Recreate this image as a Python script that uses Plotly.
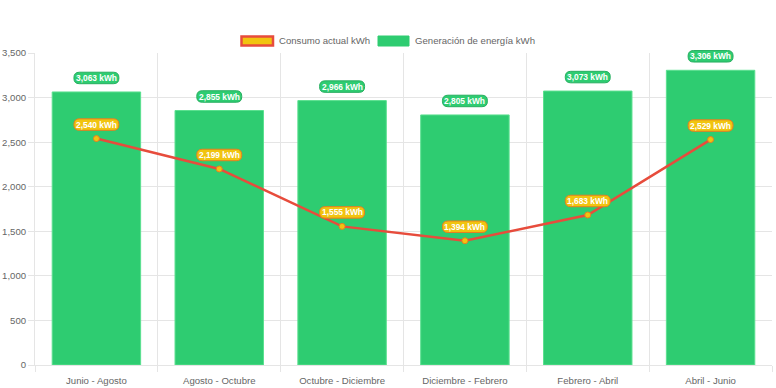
import plotly.graph_objects as go

categories = ["Junio - Agosto", "Agosto - Octubre", "Octubre - Diciembre",
              "Diciembre - Febrero", "Febrero - Abril", "Abril - Junio"]
generacion = [3063, 2855, 2966, 2805, 3073, 3306]
consumo = [2540, 2199, 1555, 1394, 1683, 2529]
y_ticks = [0, 500, 1000, 1500, 2000, 2500, 3000, 3500]

W, H = 776, 388
ML, MR, MT, MB = 35, 4, 53, 23
PW, PH = W - ML - MR, H - MT - MB
Y_MAX = y_ticks[-1]

GREEN = "#2ecc71"
YELLOW = "#f1c40f"
RED = "#e74c3c"
ORANGE = "#e67e22"
FONT = "Liberation Sans, Arial, sans-serif"
TXT = "#666666"
GRID = "#e5e5e5"

xs = list(range(len(categories)))

fig = go.Figure()
fig.add_trace(go.Bar(
    x=xs, y=generacion, name="Generación de energía kWh",
    marker=dict(color=GREEN, line=dict(color="#5be08f", width=1)),
    width=0.72, showlegend=False, hoverinfo="y",
))
fig.add_trace(go.Scatter(
    x=xs, y=consumo, name="Consumo actual kWh", mode="lines+markers",
    line=dict(color=RED, width=2.5),
    marker=dict(size=6, color=YELLOW, line=dict(color=ORANGE, width=1)),
    showlegend=False, hoverinfo="y",
))


def pill_path(w, h, r, off):
    x0, x1 = -w / 2, w / 2
    y0, y1 = off - h / 2, off + h / 2
    return " ".join([
        f"M {x0 + r},{y0}", f"L {x1 - r},{y0}", f"Q {x1},{y0} {x1},{y0 + r}",
        f"L {x1},{y1 - r}", f"Q {x1},{y1} {x1 - r},{y1}", f"L {x0 + r},{y1}",
        f"Q {x0},{y1} {x0},{y1 - r}", f"L {x0},{y0 + r}", f"Q {x0},{y0} {x0 + r},{y0}", "Z"])


shapes = []
annotations = []
LW, LH, OFF = 45, 11.5, 14


def add_label(xi, val, fill, border):
    shapes.append(dict(
        type="path", xref="x", yref="paper", xsizemode="pixel", ysizemode="pixel",
        xanchor=xi, yanchor=val / Y_MAX,
        path=pill_path(LW, LH, 5.5, OFF),
        fillcolor=fill, line=dict(color=border, width=1), layer="above",
    ))
    annotations.append(dict(
        x=xi, y=val, xref="x", yref="y", text=f"<b>{val:,} kWh</b>",
        showarrow=False, yshift=OFF, xanchor="center", yanchor="middle",
        font=dict(family=FONT, size=8.4, color="white"),
    ))


for xi, v in zip(xs, generacion):
    add_label(xi, v, GREEN, "#27ae60")
for xi, v in zip(xs, consumo):
    add_label(xi, v, YELLOW, ORANGE)


def px(xp):
    return (xp - ML) / PW


def py(yp):
    return (H - MB - yp) / PH


# custom legend
shapes.append(dict(type="rect", xref="paper", yref="paper",
                   x0=px(241.5), x1=px(273), y0=py(45.5), y1=py(36.5),
                   fillcolor=YELLOW, line=dict(color=RED, width=2.5)))
shapes.append(dict(type="rect", xref="paper", yref="paper",
                   x0=px(378), x1=px(409), y0=py(46), y1=py(36),
                   fillcolor=GREEN, line=dict(color=GREEN, width=1)))
annotations.append(dict(x=px(277), y=py(41), xref="paper", yref="paper",
                        text="Consumo actual kWh", showarrow=False,
                        xanchor="left", yanchor="middle",
                        font=dict(family=FONT, size=9.6, color=TXT)))
annotations.append(dict(x=px(413), y=py(41), xref="paper", yref="paper",
                        text="Generación de energía kWh", showarrow=False,
                        xanchor="left", yanchor="middle",
                        font=dict(family=FONT, size=9.6, color=TXT)))

fig.update_layout(
    width=W, height=H,
    margin=dict(l=ML, r=MR, t=MT, b=MB, autoexpand=False),
    plot_bgcolor="white", paper_bgcolor="white",
    font=dict(family=FONT, size=9.6, color=TXT),
    shapes=shapes, annotations=annotations,
    showlegend=False,
    xaxis=dict(
        range=[-0.5, len(categories) - 0.5], automargin=False,
        tickvals=xs, ticktext=categories, showgrid=False, zeroline=False,
        ticks="", ticklabelstandoff=6,
        tickfont=dict(size=9.6, color=TXT),
        showline=True, linecolor=GRID, linewidth=1,
        minor=dict(tickvals=[i - 0.5 for i in range(len(categories) + 1)],
                   showgrid=True, gridcolor=GRID, gridwidth=1,
                   ticks="outside", ticklen=6, tickcolor=GRID),
    ),
    yaxis=dict(
        range=[0, Y_MAX], tickvals=y_ticks, tickformat=",", automargin=False,
        showgrid=True, gridcolor=GRID, gridwidth=1, zeroline=False,
        ticks="outside", ticklen=6, tickcolor=GRID,
        showline=True, linecolor=GRID,
        tickfont=dict(size=9.6, color=TXT),
    ),
    hovermode="closest",
)

fig.write_html("out.html", config={"displayModeBar": False},
               post_script="document.body.style.margin='0';")
